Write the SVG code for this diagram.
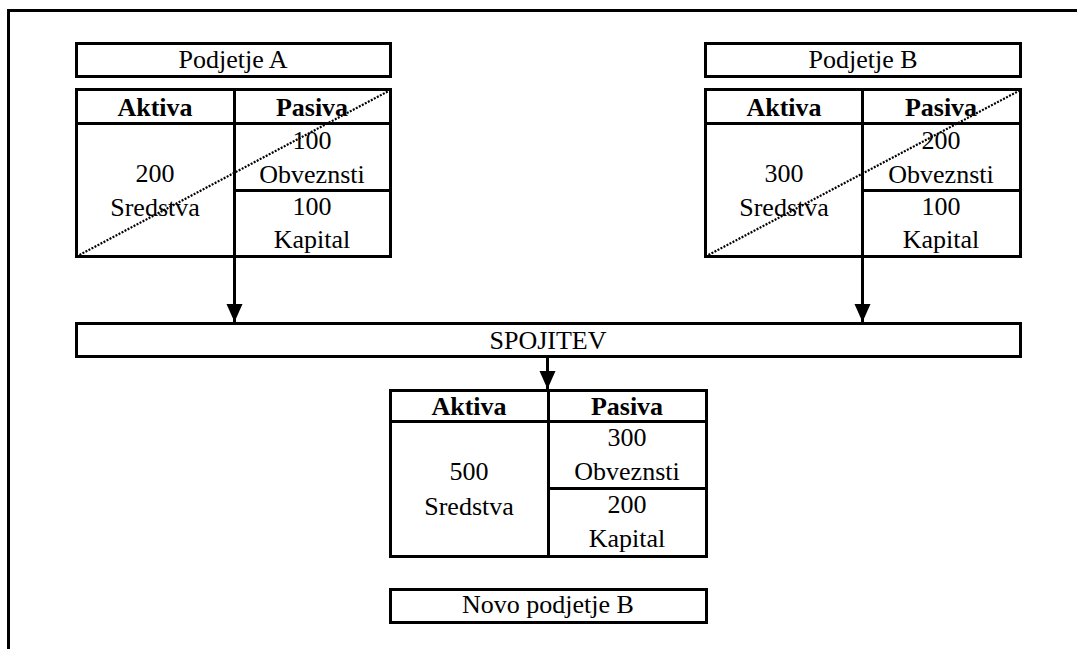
<svg xmlns="http://www.w3.org/2000/svg" width="1077" height="649" viewBox="0 0 1077 649">
<style>
.box{fill:#fff;stroke:#000;stroke-width:3}
.ln{stroke:#000;stroke-width:3;fill:none}
.dot{stroke:#000;stroke-width:2.2;stroke-dasharray:2 1.4;fill:none}
.con{stroke:#000;stroke-width:3;fill:none}
</style>
<defs>
<marker id="ah" markerUnits="userSpaceOnUse" markerWidth="18" markerHeight="18" viewBox="0 0 18 16" refX="18" refY="8" orient="auto">
<path d="M0,0 L18,8 L0,16 z" fill="#000"/>
</marker>
</defs>
<rect width="1077" height="649" fill="#fff"/>
<g font-family="'Liberation Serif', 'Times New Roman', serif" font-size="26" text-anchor="middle" fill="#000">
<g id="frame">
<path class="ln" d="M8.5,649 L8.5,10.5 L1077,10.5"/>
</g>
<g id="podjetjeA-label">
<rect class="box" x="76.5" y="43.5" width="314" height="33"/>
<text x="233" y="68">Podjetje A</text>
</g>
<g id="tableA">
<rect class="box" x="76.5" y="89.5" width="314" height="167"/>
<path class="ln" d="M76.5,123.5 L390.5,123.5 M234.5,89.5 L234.5,256.5 M234.5,190.5 L390.5,190.5"/>
<text font-weight="bold" x="155" y="116">Aktiva</text>
<text font-weight="bold" x="312" y="116">Pasiva</text>
<text x="155" y="182">200</text>
<text x="155" y="216">Sredstva</text>
<text x="312" y="149">100</text>
<text x="312" y="183">Obveznsti</text>
<text x="312" y="215">100</text>
<text x="312" y="248">Kapital</text>
<path class="dot" d="M76.5,256.5 L390.5,90"/>
</g>
<g id="podjetjeB-label">
<rect class="box" x="705.5" y="43.5" width="315" height="33"/>
<text x="863" y="68">Podjetje B</text>
</g>
<g id="tableB">
<rect class="box" x="705.5" y="89.5" width="315" height="167"/>
<path class="ln" d="M705.5,123.5 L1020.5,123.5 M862.5,89.5 L862.5,256.5 M862.5,190.5 L1020.5,190.5"/>
<text font-weight="bold" x="784" y="116">Aktiva</text>
<text font-weight="bold" x="941" y="116">Pasiva</text>
<text x="784" y="182">300</text>
<text x="784" y="216">Sredstva</text>
<text x="941" y="149">200</text>
<text x="941" y="183">Obveznsti</text>
<text x="941" y="215">100</text>
<text x="941" y="248">Kapital</text>
<path class="dot" d="M705.5,256.5 L1020.5,90"/>
</g>
<g id="spojitev">
<rect class="box" x="76.5" y="323.5" width="944" height="33"/>
<text x="548" y="349">SPOJITEV</text>
</g>
<g id="tableNew">
<rect class="box" x="390.5" y="390.5" width="316" height="166"/>
<path class="ln" d="M390.5,421.5 L706.5,421.5 M548.5,390.5 L548.5,556.5 M548.5,488.5 L706.5,488.5"/>
<text font-weight="bold" x="469" y="415">Aktiva</text>
<text font-weight="bold" x="627" y="415">Pasiva</text>
<text x="469" y="480">500</text>
<text x="469" y="515">Sredstva</text>
<text x="627" y="446">300</text>
<text x="627" y="480">Obveznsti</text>
<text x="627" y="513">200</text>
<text x="627" y="547">Kapital</text>
</g>
<g id="novo-label">
<rect class="box" x="390.5" y="589.5" width="316" height="33"/>
<text x="548" y="613">Novo podjetje B</text>
</g>
<g id="connectors">
<path class="con" marker-end="url(#ah)" d="M234.5,256.5 L234.5,322"/>
<path class="con" marker-end="url(#ah)" d="M862.5,256.5 L862.5,322"/>
<path class="con" marker-end="url(#ah)" d="M547.5,356.5 L547.5,389"/>
</g>
</g>
</svg>
